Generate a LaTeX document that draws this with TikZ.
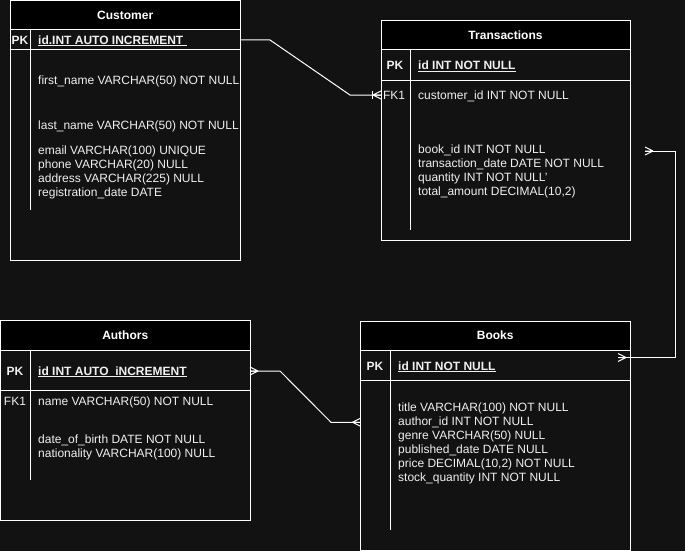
\documentclass[tikz,border=0pt]{standalone}
\usepackage{fontspec}
\setmainfont{Liberation Sans}
\usetikzlibrary{calc}
\definecolor{canvas}{HTML}{121212}
\definecolor{ink}{HTML}{F0F0F0}
% underlined key column text
\newcommand\keyul[1]{\setbox0\hbox{#1}\rlap{\rule[-2pt]{\wd0}{0.9pt}}\box0}
\begin{document}
\begin{tikzpicture}[x=1pt,y=-1pt,
  font=\fontsize{12}{14}\selectfont,
  tbl/.style={draw=white, line width=1pt, fill=canvas, anchor=north west, inner sep=0, outer sep=0},
  hdr/.style={draw=white, line width=1pt, fill=black, anchor=north west, inner sep=0, outer sep=0,
    text=white, font=\fontsize{12}{14}\selectfont\bfseries},
  fld/.style={anchor=base west, inner sep=0, text=ink},
  pkey/.style={anchor=base west, inner sep=0, text=ink, font=\fontsize{12}{14}\selectfont\bfseries},
  tag/.style={anchor=base, inner sep=0, text=ink},
  btag/.style={anchor=base, inner sep=0, text=ink, font=\fontsize{12}{14}\selectfont\bfseries},
  rule/.style={draw=white, line width=1pt},
  link/.style={draw=white, line width=1pt},
  crowfoot/.pic={\draw[link] (-8,0) -- (0,-4) (-8,0) -- (0,0) (-8,0) -- (0,4);}]

\fill[canvas] (0,0) rectangle (685,551);
\useasboundingbox (0,0) rectangle (685,551);

% ---------- Customer ----------
\node[tbl, minimum width=229.5, minimum height=259.5] (cust) at (10.5,0.5) {};
\node[hdr, minimum width=229.5, minimum height=29.5] (custhdr) at (cust.north west) {Customer};
\draw[rule] (10.5,50) -- (240,50);
\draw[rule] (30,30) -- (30,210);
\node[btag] (custpk) at (20,44.3) {PK};
\node[pkey] (custid) at (38,44.3) {\keyul{id.INT AUTO INCREMENT\ }};
\node[fld] (custf1) at (38,84.3) {first\_name VARCHAR(50) NOT NULL};
\node[fld] (custf2) at (38,129.3) {last\_name VARCHAR(50) NOT NULL};
\node[fld] (custf3) at (38,154.3) {email VARCHAR(100) UNIQUE};
\node[fld] (custf4) at (38,168.3) {phone VARCHAR(20) NULL};
\node[fld] (custf5) at (38,182.3) {address VARCHAR(225) NULL};
\node[fld] (custf6) at (38,196.3) {registration\_date DATE};

% ---------- Transactions ----------
\node[tbl, minimum width=249, minimum height=219] (trans) at (381,21) {};
\node[hdr, minimum width=249, minimum height=29] (transhdr) at (trans.north west) {Transactions};
\draw[rule] (381,80) -- (630,80);
\draw[rule] (410,50) -- (410,230);
\node[btag] (transpk) at (395,70) {PK};
\node[pkey] (transid) at (418,70) {\keyul{id INT NOT NULL}};
\node[tag] (transfk) at (394,99.3) {FK1};
\node[fld] (transf1) at (418,99.3) {customer\_id INT NOT NULL};
\node[fld] (transf2) at (418,153.3) {book\_id INT NOT NULL};
\node[fld] (transf3) at (418,167.3) {transaction\_date DATE NOT NULL};
\node[fld] (transf4) at (418,181.3) {quantity INT NOT NULL'};
\node[fld] (transf5) at (418,195.3) {total\_amount DECIMAL(10,2)};

% ---------- Authors ----------
\node[tbl, minimum width=249.5, minimum height=199.5] (auth) at (0.5,320.5) {};
\node[hdr, minimum width=249.5, minimum height=29.5] (authhdr) at (auth.north west) {Authors};
\draw[rule] (0.5,390) -- (250,390);
\draw[rule] (30,350) -- (30,480);
\node[btag] (authpk) at (15,375.3) {PK};
\node[pkey] (authid) at (38,375.3) {\keyul{id INT AUTO\_iNCREMENT}};
\node[tag] (authfk) at (15,405.3) {FK1};
\node[fld] (authf1) at (38,405.3) {name VARCHAR(50) NOT NULL};
\node[fld] (authf2) at (38,443) {date\_of\_birth DATE NOT NULL};
\node[fld] (authf3) at (38,457) {nationality VARCHAR(100) NULL};

% ---------- Books ----------
\node[tbl, minimum width=269.5, minimum height=229.5] (books) at (360.5,321) {};
\node[hdr, minimum width=269.5, minimum height=29] (bookshdr) at (books.north west) {Books};
\draw[rule] (360.5,380) -- (630,380);
\draw[rule] (390,350) -- (390,530);
\node[btag] (bookspk) at (375,370) {PK};
\node[pkey] (booksid) at (398,370) {\keyul{id INT NOT NULL}};
\node[fld] (booksf1) at (398,411) {title VARCHAR(100) NOT NULL};
\node[fld] (booksf2) at (398,425) {author\_id INT NOT NULL};
\node[fld] (booksf3) at (398,439) {genre VARCHAR(50) NULL};
\node[fld] (booksf4) at (398,453) {published\_date DATE NULL};
\node[fld] (booksf5) at (398,467) {price DECIMAL(10,2) NOT NULL};
\node[fld] (booksf6) at (398,481) {stock\_quantity INT NOT NULL};

% ---------- Relationships ----------
% Customer 1 -- * Transactions
\coordinate (c2t) at ($(trans.north west)+(0,74)$);
\draw[link] ($(cust.north east)+(0,39.5)$) -- (270,40) -- (350,95) -- (c2t);
\pic at (c2t) {crowfoot};
\draw[link] (372,91) -- (372,99);

% Authors * -- * Books
\coordinate (a2b) at ($(auth.north east)+(0,50.5)$);
\coordinate (b2a) at ($(books.north west)+(0,101.3)$);
\draw[link] (a2b) -- (280,371) -- (331,422.3) -- (b2a);
\pic[rotate=180] at (a2b) {crowfoot};
\pic at (b2a) {crowfoot};

% Transactions * -- * Books
\coordinate (t2b) at (645,151);
\coordinate (b2t) at (618,357.5);
\draw[link] (t2b) -- (675,151) -- (675,357.5) -- (b2t);
\pic[rotate=180] at (t2b) {crowfoot};
\pic[rotate=180] at (b2t) {crowfoot};
\end{tikzpicture}
\end{document}
